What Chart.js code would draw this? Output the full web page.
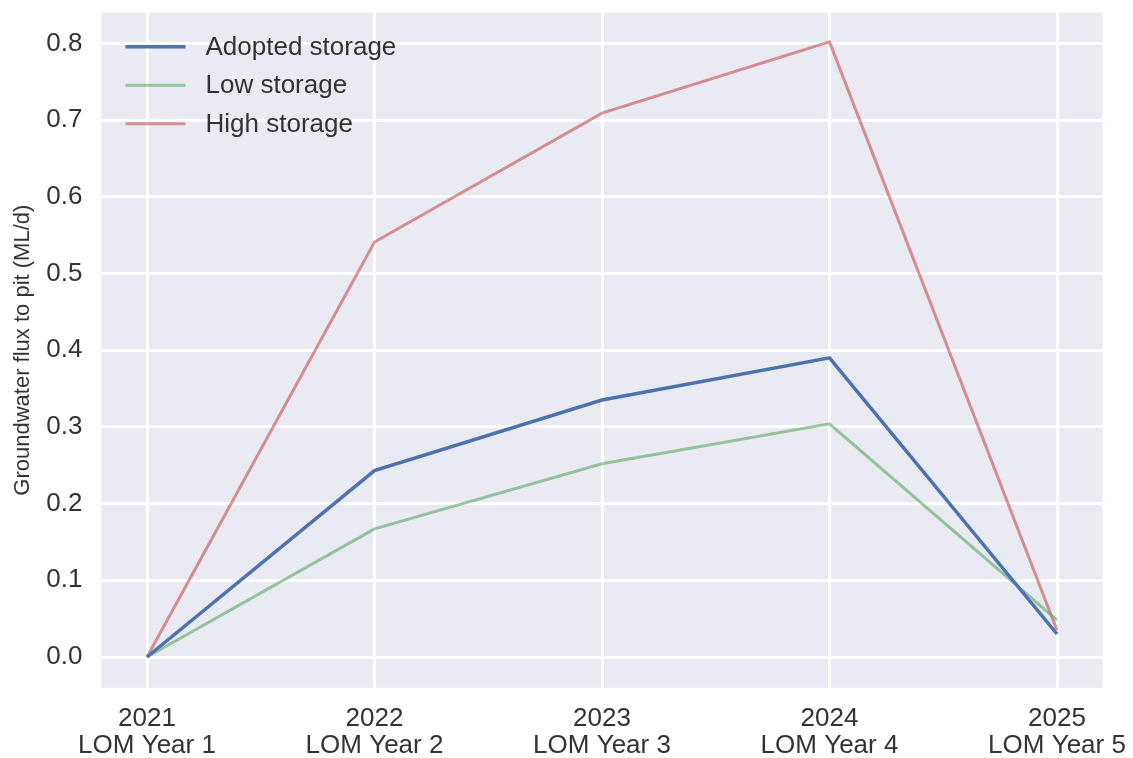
<!DOCTYPE html>
<html lang="en">
<head>
    <meta charset="UTF-8">
    <title>Groundwater flux to pit</title>
    <style>
        html, body { margin: 0; padding: 0; background: #fff; }
        #wrap { width: 1133px; height: 758px; }
    </style>
    <script src="https://cdn.jsdelivr.net/npm/chart.js"></script>
</head>
<body>
<div id="wrap"><canvas id="fluxChart" width="1133" height="758"></canvas></div>
<script>
    const years = ['2021', '2022', '2023', '2024', '2025'];
    const lomYears = ['LOM Year 1', 'LOM Year 2', 'LOM Year 3', 'LOM Year 4', 'LOM Year 5'];
    const adopted = [0.0, 0.243, 0.335, 0.390, 0.030];
    const lowStorage = [0.0, 0.167, 0.252, 0.304, 0.048];
    const highStorage = [0.0, 0.541, 0.709, 0.802, 0.035];
    const yTicks = [0.0, 0.1, 0.2, 0.3, 0.4, 0.5, 0.6, 0.7, 0.8];

    const FONT = '"Liberation Sans", Arial, sans-serif';
    const TEXT = '#333333';

    function pts(arr) {
        return arr.map((v, i) => ({ x: i, y: v }));
    }

    // grey plot background, seaborn style
    const plotBg = {
        id: 'plotBg',
        beforeDraw(chart) {
            const a = chart.chartArea, ctx = chart.ctx;
            ctx.save();
            ctx.fillStyle = '#EAEAF2';
            ctx.fillRect(a.left, a.top, a.right - a.left, a.bottom - a.top);
            ctx.restore();
        }
    };

    // legend drawn inside the axes, top left
    const innerLegend = {
        id: 'innerLegend',
        afterDatasetsDraw(chart) {
            const a = chart.chartArea, ctx = chart.ctx;
            ctx.save();
            ctx.font = '26px ' + FONT;
            ctx.textBaseline = 'middle';
            chart.data.datasets.forEach((ds, i) => {
                const y = a.top + 34 + i * 38.5;
                ctx.strokeStyle = ds.borderColor;
                ctx.lineWidth = ds.borderWidth;
                ctx.beginPath();
                ctx.moveTo(a.left + 24, y);
                ctx.lineTo(a.left + 84, y);
                ctx.stroke();
                ctx.fillStyle = TEXT;
                ctx.fillText(ds.label, a.left + 104, y + 1);
            });
            ctx.restore();
        }
    };

    new Chart(document.getElementById('fluxChart'), {
        type: 'line',
        data: {
            datasets: [{
                label: 'Adopted storage',
                data: pts(adopted),
                borderColor: '#4C72B0',
                borderWidth: 3.5
            }, {
                label: 'Low storage',
                data: pts(lowStorage),
                borderColor: 'rgba(85, 168, 104, 0.6)',
                borderWidth: 3
            }, {
                label: 'High storage',
                data: pts(highStorage),
                borderColor: 'rgba(196, 78, 82, 0.6)',
                borderWidth: 3
            }]
        },
        options: {
            responsive: false,
            animation: false,
            events: [],
            elements: { point: { radius: 0 }, line: { tension: 0 } },
            layout: { padding: { top: 12.7, right: 30.5, left: 0, bottom: 0 } },
            plugins: { legend: { display: false }, tooltip: { enabled: false } },
            scales: {
                x: {
                    type: 'linear',
                    min: -0.2,
                    max: 4.2,
                    afterBuildTicks(scale) {
                        scale.ticks = years.map((_, i) => ({ value: i }));
                    },
                    afterFit(scale) {
                        scale.height = 70.3;
                        scale.paddingLeft = 0;
                        scale.paddingRight = 0;
                    },
                    border: { display: false },
                    grid: { color: '#ffffff', lineWidth: 3, drawTicks: false },
                    ticks: {
                        autoSkip: false,
                        maxRotation: 0,
                        padding: 18,
                        color: TEXT,
                        font: { family: FONT, size: 26, lineHeight: 1.04 },
                        callback: (v) => [years[v], lomYears[v]]
                    }
                },
                y: {
                    min: -0.04,
                    max: 0.84,
                    afterBuildTicks(scale) {
                        scale.ticks = yTicks.map(v => ({ value: v }));
                    },
                    afterFit(scale) {
                        scale.width = 101.5;
                        scale.paddingTop = 0;
                        scale.paddingBottom = 0;
                    },
                    border: { display: false },
                    grid: { color: '#ffffff', lineWidth: 3, drawTicks: false },
                    ticks: {
                        padding: 19,
                        color: TEXT,
                        font: { family: FONT, size: 26 },
                        callback: (v) => v.toFixed(1)
                    },
                    title: {
                        display: true,
                        text: 'Groundwater flux to pit (ML/d)',
                        color: TEXT,
                        padding: { top: 10, bottom: 0 },
                        font: { family: FONT, size: 22 }
                    }
                }
            }
        },
        plugins: [plotBg, innerLegend]
    });
</script>
</body>
</html>
